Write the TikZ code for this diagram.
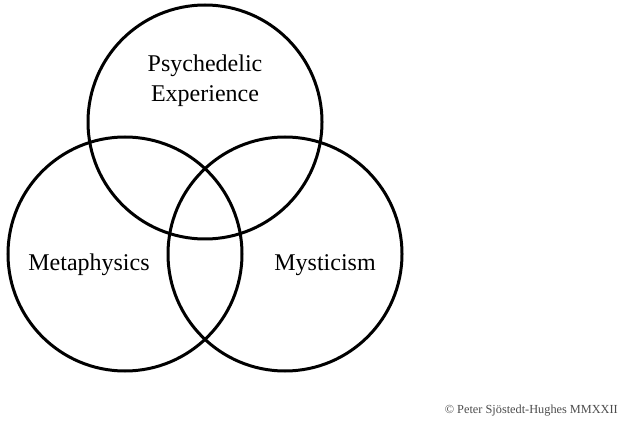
\documentclass[tikz,border=0pt]{standalone}
\usepackage{fontspec}
\setmainfont{Liberation Serif}
\begin{document}
\begin{tikzpicture}[x=1pt,y=-1pt,
  venn/.style={draw=black,line width=3pt,circle,minimum size=234pt,inner sep=0pt},
  lbl/.style={font=\fontsize{24}{30}\selectfont,align=center,inner sep=0pt},
  credit/.style={font=\fontsize{12.3}{14}\selectfont,text=black!70,anchor=base east,inner sep=0pt}]
\useasboundingbox (0,0) rectangle (624,422);
\node[venn] (top) at (205,122) {};
\node[venn] (left) at (125,254) {};
\node[venn] (right) at (285,254) {};
\node[lbl,anchor=base] (pe1) at (205,72) {Psychedelic};
\node[lbl,anchor=base] (pe2) at (205,102) {Experience};
\node[lbl,anchor=base] (meta) at (89,270) {Metaphysics};
\node[lbl,anchor=base] (myst) at (325,270) {Mysticism};
\node[credit] (cr) at (618,413) {© Peter Sjöstedt-Hughes MMXXII};
\end{tikzpicture}
\end{document}
